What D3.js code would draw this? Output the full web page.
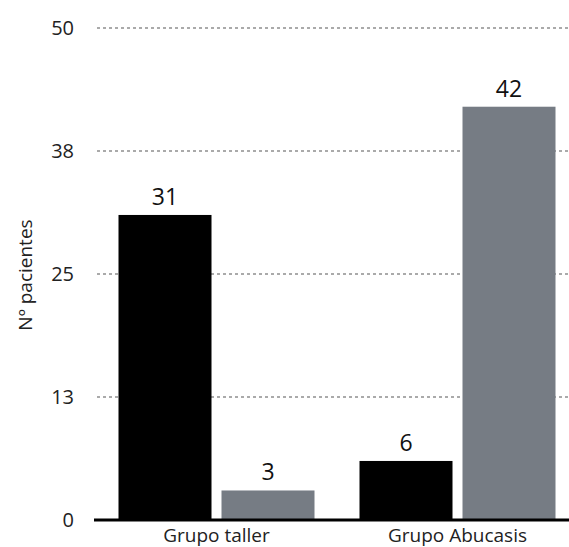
<!DOCTYPE html>
<html><head><meta charset="utf-8">
<script src="https://cdn.jsdelivr.net/npm/d3@7"></script>
<style>body{margin:0;background:#fff}svg{display:block}</style>
</head><body>
<svg id="c" width="569" height="547"></svg>
<script>
const categories = ["Grupo taller", "Grupo Abucasis"];
const series = ["Serie 1", "Serie 2"];
const values1 = [31, 6];
const values2 = [3, 42];
const tickValues = [0, 12.5, 25, 37.5, 50];
const tickLabels = ["0", "13", "25", "38", "50"];
const yTitle = "Nº pacientes";
const colors = ["#000000", "#767c84"];

const svg = d3.select("#c");
const font = "'Open Sans', 'DejaVu Sans', sans-serif";
const y = d3.scaleLinear().domain([0, 50]).range([520, 28]);
const p = 45 / 241;
const x0 = d3.scaleBand().domain(categories).range([96, 578]).paddingInner(p).paddingOuter(p / 2);
const x1 = d3.scaleBand().domain(series).range([0, x0.bandwidth()]).paddingInner(10 / 103).paddingOuter(0);

// gridlines
svg.append("g").selectAll("line").data(tickValues.slice(1)).join("line")
  .attr("x1", 97).attr("x2", 569)
  .attr("y1", d => y(d)).attr("y2", d => y(d))
  .attr("stroke", "#aaaaaa").attr("stroke-width", 2).attr("stroke-dasharray", "3,3");

// y tick labels
svg.append("g").selectAll("text").data(tickValues).join("text")
  .attr("x", 74).attr("y", d => y(d)).attr("dy", "0.35em")
  .attr("text-anchor", "end").attr("font-family", font).attr("font-size", 20).attr("fill", "#222")
  .text((d, i) => tickLabels[i]);

// y title
svg.append("text").attr("transform", "translate(32,275) rotate(-90)")
  .attr("text-anchor", "middle").attr("font-family", font).attr("font-size", 19).attr("fill", "#222")
  .text(yTitle);

const data = categories.map((c, i) => ({cat: c, vals: [values1[i], values2[i]]}));
const g = svg.append("g").selectAll("g").data(data).join("g")
  .attr("transform", d => `translate(${x0(d.cat)},0)`);
g.selectAll("rect").data(d => d.vals.map((v, j) => ({s: series[j], v, j}))).join("rect")
  .attr("x", d => x1(d.s)).attr("width", x1.bandwidth())
  .attr("y", d => y(d.v)).attr("height", d => y(0) - y(d.v))
  .attr("fill", d => colors[d.j]);
g.selectAll("text").data(d => d.vals.map((v, j) => ({s: series[j], v, j}))).join("text")
  .attr("x", d => x1(d.s) + x1.bandwidth() / 2).attr("y", d => y(d.v) - 10)
  .attr("text-anchor", "middle").attr("font-family", font).attr("font-size", 23).attr("fill", "#111")
  .text(d => d.v);

// axis line
svg.append("line").attr("x1", 94).attr("x2", 569).attr("y1", y(0)).attr("y2", y(0))
  .attr("stroke", "#000").attr("stroke-width", 3);

// x labels
svg.append("g").selectAll("text").data(categories).join("text")
  .attr("x", d => x0(d) + x0.bandwidth() / 2).attr("y", 542)
  .attr("text-anchor", "middle").attr("font-family", font).attr("font-size", 19).attr("fill", "#222")
  .text(d => d);
</script>
</body></html>
